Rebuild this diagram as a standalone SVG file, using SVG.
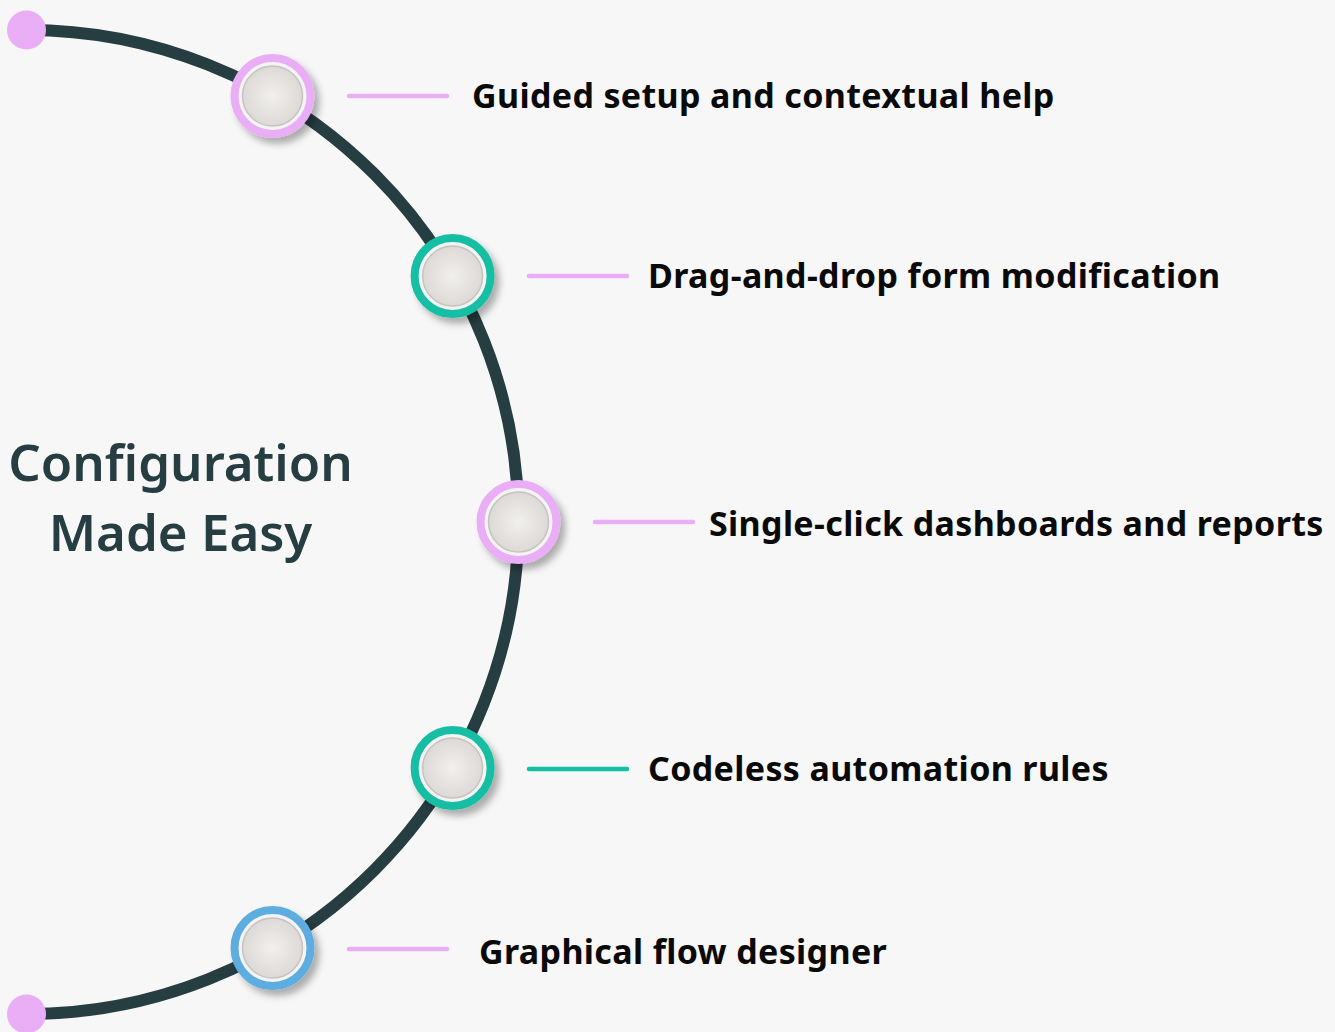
<svg xmlns="http://www.w3.org/2000/svg" width="1335" height="1032" viewBox="0 0 1335 1032">
  <defs>
    <radialGradient id="disc" cx="50%" cy="50%" r="50%">
      <stop offset="0" stop-color="#f2f0ee"/>
      <stop offset="1" stop-color="#dcd9d6"/>
    </radialGradient>
    <filter id="shadow" x="-40%" y="-40%" width="190%" height="190%">
      <feDropShadow dx="5" dy="6" stdDeviation="3.5" flood-color="#000" flood-opacity="0.3"/>
    </filter>
  </defs>
  <style>
    .arc { fill: none; stroke: #263d42; stroke-width: 12; }
    .end { fill: #e9aef5; }
    .ring { stroke-width: 8; fill: #f4f4f4; }
    .pink { stroke: #e9aef5; }
    .teal { stroke: #15bfa3; }
    .blue { stroke: #5dade0; }
    .disc { fill: url(#disc); stroke: #c6c3c0; stroke-width: 1.5; }
    .tick { stroke-width: 4.5; stroke-linecap: round; }
    .label { font-family: "Noto Sans", "Open Sans", sans-serif; font-weight: 700; font-size: 34px; letter-spacing: 0.35px; fill: #0a0a0a; }
    .title { font-family: "Noto Sans", "Open Sans", sans-serif; font-weight: 600; font-size: 51px; fill: #263d42; text-anchor: middle; }
  </style>
  <rect width="1335" height="1032" fill="#f7f7f7"/>
  <g id="connectors">
    <path class="arc" d="M 26.5 30 A 492 492 0 0 1 26.5 1014"/>
    <line class="tick pink" x1="349" y1="96" x2="447" y2="96"/>
    <line class="tick pink" x1="529" y1="276" x2="627" y2="276"/>
    <line class="tick pink" x1="595" y1="522" x2="693" y2="522"/>
    <line class="tick teal" x1="529" y1="769" x2="627" y2="769"/>
    <line class="tick pink" x1="349" y1="949" x2="447" y2="949"/>
  </g>
  <g id="endpoints">
    <circle class="end" cx="26.5" cy="30" r="19.5"/>
    <circle class="end" cx="26.5" cy="1014" r="19.5"/>
  </g>
  <g id="title">
    <text class="title" x="180.5" y="481">Configuration</text>
    <text class="title" x="180.5" y="551">Made Easy</text>
  </g>
  <g id="node1">
    <g filter="url(#shadow)"><circle class="ring pink" cx="272.5" cy="96" r="38"/></g>
    <circle class="disc" cx="272.5" cy="96" r="30"/>
    <text class="label" x="472" y="108">Guided setup and contextual help</text>
  </g>
  <g id="node2">
    <g filter="url(#shadow)"><circle class="ring teal" cx="452.6" cy="276" r="38"/></g>
    <circle class="disc" cx="452.6" cy="276" r="30"/>
    <text class="label" x="648" y="288">Drag-and-drop form modification</text>
  </g>
  <g id="node3">
    <g filter="url(#shadow)"><circle class="ring pink" cx="518.5" cy="522" r="38"/></g>
    <circle class="disc" cx="518.5" cy="522" r="30"/>
    <text class="label" x="709" y="536">Single-click dashboards and reports</text>
  </g>
  <g id="node4">
    <g filter="url(#shadow)"><circle class="ring teal" cx="452.6" cy="768" r="38"/></g>
    <circle class="disc" cx="452.6" cy="768" r="30"/>
    <text class="label" x="648" y="781">Codeless automation rules</text>
  </g>
  <g id="node5">
    <g filter="url(#shadow)"><circle class="ring blue" cx="272.5" cy="948" r="38"/></g>
    <circle class="disc" cx="272.5" cy="948" r="30"/>
    <text class="label" x="479" y="964">Graphical flow designer</text>
  </g>
</svg>
